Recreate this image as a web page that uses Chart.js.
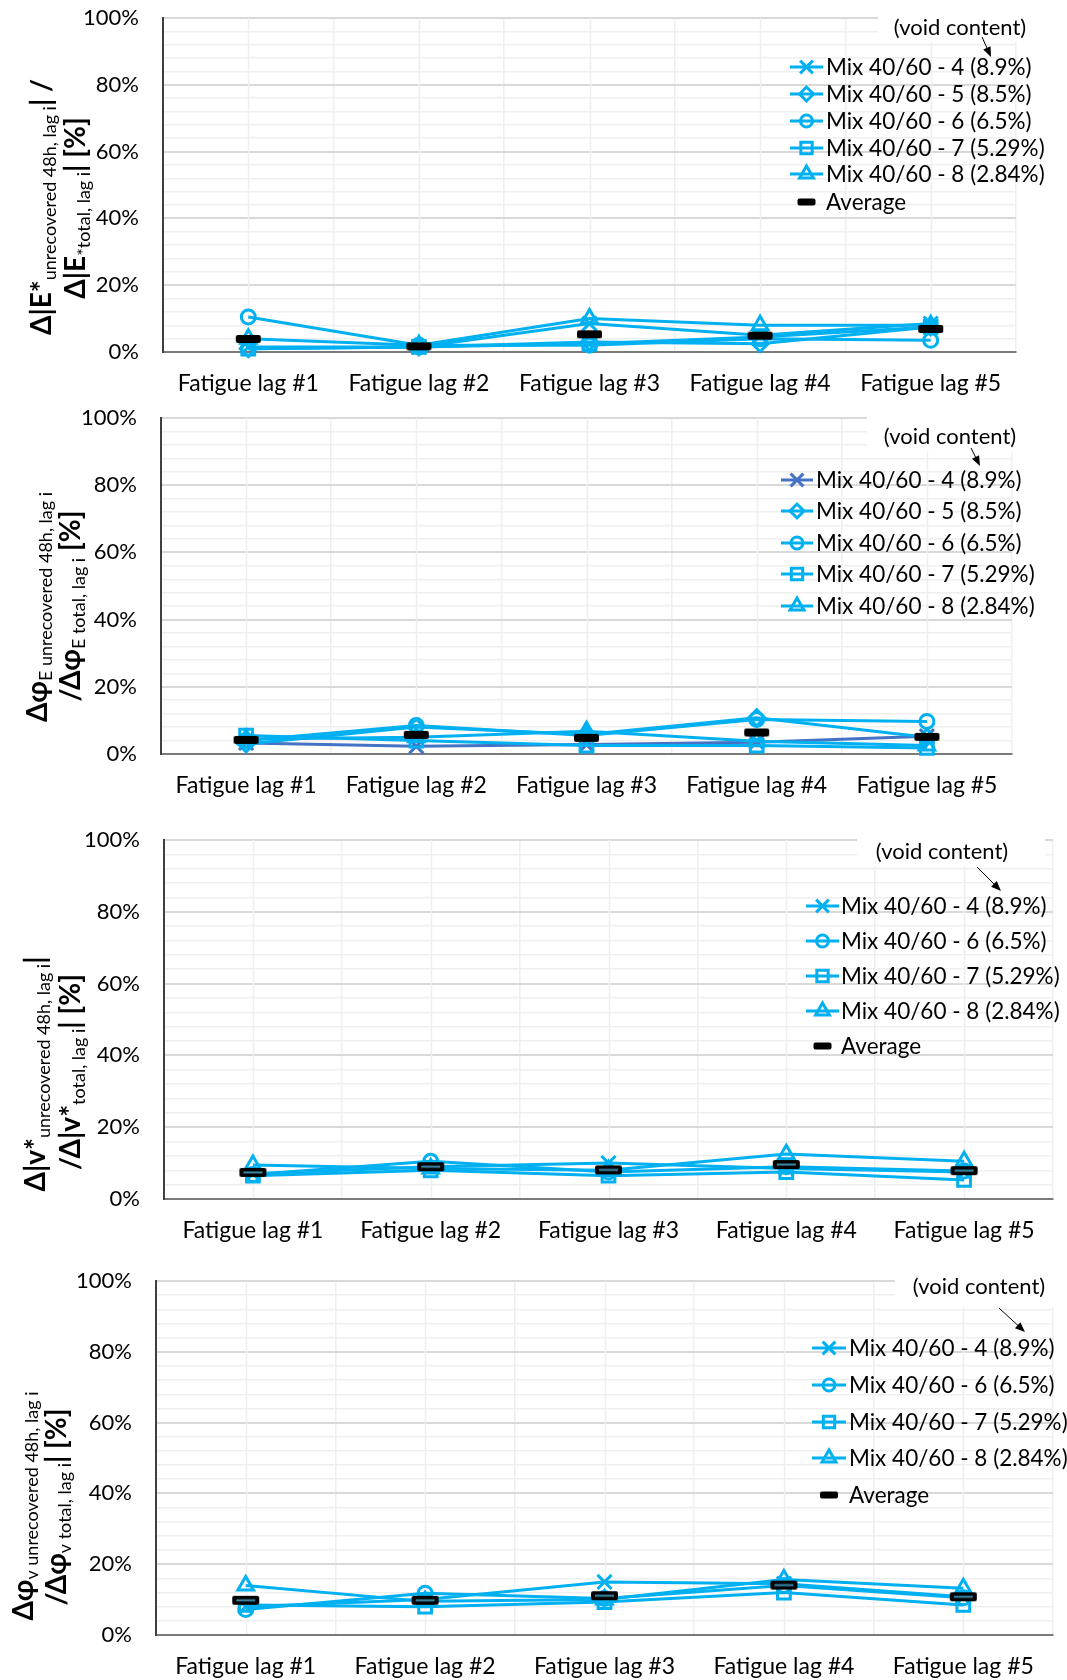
<!DOCTYPE html>
<html>
<head>
<meta charset="utf-8">
<script src="https://cdn.jsdelivr.net/npm/chart.js@4/dist/chart.umd.min.js"></script>
<style>
html, body { margin: 0; padding: 0; background: #fff; }
#wrap { position: relative; width: 1067px; height: 1680px; }
canvas { position: absolute; left: 0; }
</style>
</head>
<body>
<div id="wrap"></div>
<script>
// categories and legend names
var lagLabels = ['Fatigue lag #1', 'Fatigue lag #2', 'Fatigue lag #3', 'Fatigue lag #4', 'Fatigue lag #5'];
var mixNames = ['Mix 40/60 - 4 (8.9%)', 'Mix 40/60 - 5 (8.5%)', 'Mix 40/60 - 6 (6.5%)', 'Mix 40/60 - 7 (5.29%)', 'Mix 40/60 - 8 (2.84%)'];
var averageName = 'Average';
var noteText = '(void content)';

// panel 1: |E*| unrecovered / total  [%]
var modEMix4 = [1.5, 1.5, 8.5, 5.0, 8.5];
var modEMix5 = [1.0, 1.5, 3.0, 2.5, 7.5];
var modEMix6 = [10.5, 2.0, 2.0, 4.0, 3.5];
var modEMix7 = [1.0, 1.5, 2.5, 4.5, 7.5];
var modEMix8 = [4.0, 2.0, 10.0, 8.0, 8.0];
var modEAverage = [3.9, 1.7, 5.3, 4.9, 6.9];

// panel 2: phi E unrecovered / total  [%]
var phiEMix4 = [3.3, 2.3, 2.8, 3.5, 5.3];
var phiEMix5 = [3.0, 8.0, 5.8, 10.8, 5.0];
var phiEMix6 = [4.0, 8.5, 5.5, 10.3, 9.7];
var phiEMix7 = [5.5, 4.0, 2.5, 2.5, 1.8];
var phiEMix8 = [4.5, 5.0, 6.8, 3.8, 2.5];
var phiEAverage = [4.2, 5.7, 4.8, 6.4, 5.1];

// panel 3: |v*| unrecovered / total  [%]
var modVMix4 = [7.0, 9.0, 10.0, 8.5, 7.5];
var modVMix6 = [6.8, 10.5, 7.5, 9.0, 7.8];
var modVMix7 = [6.5, 8.0, 6.5, 7.5, 5.3];
var modVMix8 = [9.5, 8.5, 8.0, 12.5, 10.5];
var modVAverage = [7.4, 9.0, 8.1, 9.6, 7.9];

// panel 4: phi v unrecovered / total  [%]
var phiVMix4 = [8.0, 10.0, 15.0, 14.5, 10.8];
var phiVMix6 = [7.2, 11.8, 10.3, 14.0, 10.5];
var phiVMix7 = [8.5, 8.0, 9.3, 12.0, 8.5];
var phiVMix8 = [14.0, 9.5, 10.0, 15.7, 13.2];
var phiVAverage = [9.8, 9.8, 11.1, 14.1, 10.8];

var FONT = 'Lato, "Noto Sans", "DejaVu Sans", sans-serif';
var CYAN = '#00b0f0';
var DARKBLUE = '#4472c4';
var markerStyles = ['crossRot', 'rectRot', 'circle', 'rect', 'triangle'];
var markerRadius = [10, 8, 7, 9, 9];

function roundRect(g, x, y, w, h, r) {
    g.beginPath();
    g.moveTo(x + r, y);
    g.lineTo(x + w - r, y);
    g.quadraticCurveTo(x + w, y, x + w, y + r);
    g.lineTo(x + w, y + h - r);
    g.quadraticCurveTo(x + w, y + h, x + w - r, y + h);
    g.lineTo(x + r, y + h);
    g.quadraticCurveTo(x, y + h, x, y + h - r);
    g.lineTo(x, y + r);
    g.quadraticCurveTo(x, y, x + r, y);
    g.closePath();
}

function averageMarker(w, h, striped) {
    var c = document.createElement('canvas');
    c.width = w + 2;
    c.height = h + 2;
    var g = c.getContext('2d');
    g.fillStyle = '#000';
    roundRect(g, 1, 1, w, h, 2);
    g.fill();
    if (striped) {
        g.fillStyle = '#3d8db0';
        g.fillRect(5, 1 + h / 2 - 1, w - 8, 2);
    }
    return c;
}

function drawMarker(ctx, style, x, y, r) {
    var o = Math.SQRT1_2 * r;
    ctx.beginPath();
    if (style === 'circle') {
        ctx.arc(x, y, r, 0, Math.PI * 2);
    } else if (style === 'rect') {
        ctx.rect(x - o, y - o, 2 * o, 2 * o);
    } else if (style === 'rectRot') {
        ctx.moveTo(x - r, y); ctx.lineTo(x, y - r); ctx.lineTo(x + r, y); ctx.lineTo(x, y + r);
        ctx.closePath();
    } else if (style === 'triangle') {
        var a = 0;
        ctx.moveTo(x + Math.sin(a) * r, y - Math.cos(a) * r);
        a += Math.PI * 2 / 3;
        ctx.lineTo(x + Math.sin(a) * r, y - Math.cos(a) * r);
        a += Math.PI * 2 / 3;
        ctx.lineTo(x + Math.sin(a) * r, y - Math.cos(a) * r);
        ctx.closePath();
    } else if (style === 'crossRot') {
        ctx.moveTo(x - o, y - o); ctx.lineTo(x + o, y + o);
        ctx.moveTo(x + o, y - o); ctx.lineTo(x - o, y + o);
    }
    ctx.stroke();
}

// rich rotated text: pieces of [text, 'b' | 's']
function drawTitleLine(ctx, pieces, x, cy) {
    var boldFont = 'bold 28px ' + FONT;
    var subFont = '18px ' + FONT;
    var total = 0;
    pieces.forEach(function(pc) {
        ctx.font = pc[1] === 'b' ? boldFont : subFont;
        pc.w = ctx.measureText(pc[0]).width;
        total += pc.w;
    });
    ctx.save();
    ctx.translate(x, cy);
    ctx.rotate(-Math.PI / 2);
    ctx.fillStyle = '#000';
    ctx.textBaseline = 'alphabetic';
    ctx.textAlign = 'left';
    var cx = -total / 2;
    pieces.forEach(function(pc) {
        ctx.font = pc[1] === 'b' ? boldFont : subFont;
        ctx.fillText(pc[0], cx, pc[1] === 'b' ? 0 : 5);
        cx += pc.w;
    });
    ctx.restore();
}

var panels = [
    {
        top: 0, height: 400,
        area: { left: 163, right: 1016, top: 18, bottom: 352 },
        series: [modEMix4, modEMix5, modEMix6, modEMix7, modEMix8],
        mix: [0, 1, 2, 3, 4],
        colors: [CYAN, CYAN, CYAN, CYAN, CYAN],
        average: modEAverage, averageInLegend: true, striped: false,
        legend: { rows: [67, 94, 121, 148, 174, 202], line: [790, 823], text: 826 },
        note: { x: 960, y: 28, box: [878, 8, 1045, 42], arrow: [982, 37, 991, 57] },
        titles: [
            { x: 51, cy: 207, pieces: [['Δ|E*', 'b'], ['unrecovered 48h, lag i', 's'], ['| /', 'b']] },
            { x: 85, cy: 208, pieces: [['Δ|E', 'b'], ['*total, lag i', 's'], ['| [%]', 'b']] }
        ]
    },
    {
        top: 400, height: 410,
        area: { left: 161, right: 1012, top: 418, bottom: 754 },
        series: [phiEMix4, phiEMix5, phiEMix6, phiEMix7, phiEMix8],
        mix: [0, 1, 2, 3, 4],
        colors: [DARKBLUE, CYAN, CYAN, CYAN, CYAN],
        average: phiEAverage, averageInLegend: false, striped: false,
        legend: { rows: [480, 511, 543, 574, 606], line: [781, 813], text: 816 },
        note: { x: 950, y: 437, box: [867, 410, 1040, 452], arrow: [971, 448, 980, 466] },
        titles: [
            { x: 47, cy: 607, pieces: [['Δφ', 'b'], ['E unrecovered 48h, lag i', 's']] },
            { x: 80, cy: 606, pieces: [['/Δφ', 'b'], ['E total, lag i', 's'], [' [%]', 'b']] }
        ]
    },
    {
        top: 810, height: 440,
        area: { left: 164, right: 1060, top: 840, bottom: 1199 },
        series: [modVMix4, modVMix6, modVMix7, modVMix8],
        mix: [0, 2, 3, 4],
        colors: [CYAN, CYAN, CYAN, CYAN],
        average: modVAverage, averageInLegend: true, striped: true,
        legend: { rows: [906, 941, 976, 1011, 1046], line: [806, 839], text: 841 },
        note: { x: 942, y: 852, box: [857, 829, 1045, 866], arrow: [977, 867, 1001, 891] },
        titles: [
            { x: 45, cy: 1074, pieces: [['Δ|v*', 'b'], ['unrecovered 48h, lag i', 's'], ['|', 'b']] },
            { x: 80, cy: 1072, pieces: [['/Δ|v*', 'b'], ['total, lag i', 's'], ['| [%]', 'b']] }
        ]
    },
    {
        top: 1250, height: 430,
        area: { left: 156, right: 1061, top: 1281, bottom: 1635 },
        series: [phiVMix4, phiVMix6, phiVMix7, phiVMix8],
        mix: [0, 2, 3, 4],
        colors: [CYAN, CYAN, CYAN, CYAN],
        average: phiVAverage, averageInLegend: true, striped: true,
        legend: { rows: [1348, 1385, 1422, 1458, 1495], line: [812, 846], text: 849 },
        note: { x: 979, y: 1287, box: [895, 1263, 1067, 1307], arrow: [999, 1308, 1025, 1332] },
        titles: [
            { x: 33, cy: 1506, pieces: [['Δφ', 'b'], ['v unrecovered 48h, lag i', 's']] },
            { x: 66, cy: 1507, pieces: [['/Δφ', 'b'], ['v total, lag i', 's'], ['| [%]', 'b']] }
        ]
    }
];

// light vertical lines through each category centre, placed by the x scale
var centreLines = {
    id: 'centreLines',
    beforeDatasetsDraw: function(chart) {
        var ctx = chart.ctx;
        var x = chart.scales.x;
        var area = chart.chartArea;
        ctx.save();
        ctx.strokeStyle = '#efefef';
        ctx.lineWidth = 1.5;
        lagLabels.forEach(function(l, i) {
            var px = Math.round(x.getPixelForValue(i)) + 0.5;
            ctx.beginPath();
            ctx.moveTo(px, area.top);
            ctx.lineTo(px, area.bottom - 1);
            ctx.stroke();
        });
        ctx.restore();
    }
};

function decorPlugin(p) {
    return {
        id: 'decor',
        afterDraw: function(chart) {
            var ctx = chart.ctx;
            var off = p.top;
            ctx.save();

            // void content note with its arrow
            var b = p.note.box;
            ctx.fillStyle = '#fff';
            ctx.fillRect(b[0], b[1] - off, b[2] - b[0], b[3] - b[1]);
            ctx.font = '22px ' + FONT;
            ctx.fillStyle = '#000';
            ctx.textAlign = 'center';
            ctx.textBaseline = 'middle';
            ctx.fillText(noteText, p.note.x, p.note.y - off);
            var ar = p.note.arrow;
            var x1 = ar[0], y1 = ar[1] - off, x2 = ar[2], y2 = ar[3] - off;
            var ang = Math.atan2(y2 - y1, x2 - x1);
            ctx.strokeStyle = '#000';
            ctx.lineWidth = 1;
            ctx.beginPath();
            ctx.moveTo(x1, y1);
            ctx.lineTo(x2 - 6 * Math.cos(ang), y2 - 6 * Math.sin(ang));
            ctx.stroke();
            ctx.beginPath();
            ctx.moveTo(x2, y2);
            ctx.lineTo(x2 - 10 * Math.cos(ang) + 4 * Math.sin(ang), y2 - 10 * Math.sin(ang) - 4 * Math.cos(ang));
            ctx.lineTo(x2 - 10 * Math.cos(ang) - 4 * Math.sin(ang), y2 - 10 * Math.sin(ang) + 4 * Math.cos(ang));
            ctx.closePath();
            ctx.fill();

            // legend inside the plot
            var lg = p.legend;
            var mid = (lg.line[0] + lg.line[1]) / 2;
            ctx.textAlign = 'left';
            ctx.font = '22.5px ' + FONT;
            p.mix.forEach(function(m, i) {
                var y = lg.rows[i] - off;
                ctx.strokeStyle = p.colors[i];
                ctx.lineWidth = 3;
                ctx.beginPath();
                ctx.moveTo(lg.line[0], y);
                ctx.lineTo(lg.line[1], y);
                ctx.stroke();
                drawMarker(ctx, markerStyles[m], mid, y, markerRadius[m] - 1);
                ctx.fillStyle = '#000';
                ctx.fillText(mixNames[m], lg.text, y + 1);
            });
            if (p.averageInLegend) {
                var ya = lg.rows[p.mix.length] - off;
                ctx.fillStyle = '#000';
                roundRect(ctx, mid - 9, ya - 3.5, 18, 7, 2);
                ctx.fill();
                ctx.fillText(averageName, lg.text, ya + 1);
            }

            // y axis titles
            p.titles.forEach(function(t) {
                drawTitleLine(ctx, t.pieces, t.x, t.cy - off);
            });
            ctx.restore();
        }
    };
}

var wrap = document.getElementById('wrap');

panels.forEach(function(p) {
    var canvas = document.createElement('canvas');
    canvas.width = 1067;
    canvas.height = p.height;
    canvas.style.top = p.top + 'px';
    canvas.style.width = '1067px';
    canvas.style.height = p.height + 'px';
    wrap.appendChild(canvas);

    var a = p.area;
    var n = p.series.length;
    var datasets = p.series.map(function(vals, i) {
        var m = p.mix[i];
        return {
            label: mixNames[m],
            data: vals,
            borderColor: p.colors[i],
            backgroundColor: p.colors[i],
            borderWidth: 3,
            tension: 0,
            pointStyle: markerStyles[m],
            pointRadius: markerRadius[m],
            pointBorderWidth: 3,
            pointBorderColor: p.colors[i],
            pointBackgroundColor: 'rgba(0,0,0,0)',
            clip: false,
            order: n - i
        };
    });
    datasets.push({
        label: averageName,
        data: p.average,
        showLine: false,
        borderColor: '#000',
        backgroundColor: '#000',
        pointStyle: p.striped ? averageMarker(27, 9, true) : averageMarker(25, 8, false),
        pointRadius: 13,
        clip: false,
        order: 0
    });

    var gridY = function(c) {
        return c.tick && c.tick.value % 20 === 0 ? '#d9d9d9' : '#efefef';
    };
    var gridYW = function(c) {
        return c.tick && c.tick.value % 20 === 0 ? 2 : 1.5;
    };

    new Chart(canvas.getContext('2d'), {
        type: 'line',
        data: { labels: lagLabels, datasets: datasets },
        options: {
            responsive: false,
            animation: false,
            devicePixelRatio: 1,
            layout: { padding: { top: a.top - p.top, right: 1067 - a.right, left: 0, bottom: 0 } },
            plugins: { legend: { display: false }, tooltip: { enabled: false } },
            scales: {
                x: {
                    type: 'category',
                    offset: true,
                    grid: { offset: true, color: '#efefef', lineWidth: 1.5, drawTicks: false },
                    border: { color: '#7a7a7a', width: 2 },
                    ticks: { font: { family: FONT, size: 23 }, color: '#000', padding: 18, maxRotation: 0, autoSkip: false },
                    afterFit: function(s) {
                        s.height = p.height - (a.bottom - p.top);
                        s.paddingLeft = 0;
                        s.paddingRight = 0;
                    }
                },
                y: {
                    min: 0,
                    max: 100,
                    ticks: {
                        stepSize: 4,
                        autoSkip: false,
                        font: { family: FONT, size: 22 },
                        color: '#000',
                        padding: 24,
                        callback: function(v) { return v % 20 === 0 ? v + '%' : ''; }
                    },
                    grid: { color: gridY, lineWidth: gridYW, drawTicks: false },
                    border: { color: '#404040', width: 2 },
                    afterFit: function(s) {
                        s.width = a.left;
                        s.paddingTop = 0;
                        s.paddingBottom = 0;
                    }
                }
            }
        },
        plugins: [centreLines, decorPlugin(p)]
    });
});
</script>
</body>
</html>
